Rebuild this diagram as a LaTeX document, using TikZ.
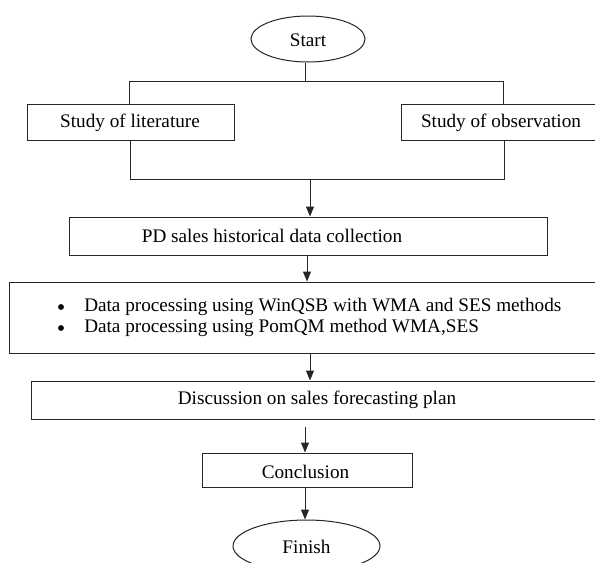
\documentclass[tikz,border=0pt]{standalone}
\usepackage{fontspec}
\setmainfont{Liberation Serif}
\usetikzlibrary{arrows.meta,shapes.geometric}
\begin{document}
\begin{tikzpicture}[x=0.75pt,y=-0.75pt,
  every node/.style={font=\fontsize{14.4}{17}\selectfont, inner sep=0pt},
  ln/.style={draw=black!85, line width=0.75pt},
  boxn/.style={ln, rectangle},
  ovaln/.style={ln, ellipse},
  arr/.style={ln, -{Triangle[width=6pt,length=7.5pt]}},
  txt/.style={text=black}]
\useasboundingbox (0,0) rectangle (595,562);
\clip (0,0) rectangle (595,562);
\fill[white] (0,0) rectangle (595,562);
% nodes
\node[ovaln, minimum width=114*0.75pt, minimum height=46*0.75pt] (start) at (308,39) {};
\node[txt] (starttxt) at (308,40) {Start};
\node[boxn, minimum width=207*0.75pt, minimum height=36*0.75pt] (lit) at (130.5,122) {};
\node[txt] (littxt) at (130,123) {Study of literature};
\node[boxn, minimum width=219*0.75pt, minimum height=36*0.75pt] (obs) at (510.5,122) {};
\node[txt] (obstxt) at (501,123) {Study of observation};
\node[boxn, minimum width=478*0.75pt, minimum height=38*0.75pt] (pd) at (308,236) {};
\node[txt] (pdtxt) at (272,236) {PD sales historical data collection};
\node[boxn, minimum width=611*0.75pt, minimum height=71*0.75pt] (data) at (314.5,317.5) {};
\fill[black] (61,307) circle (2.2pt);
\fill[black] (61,328) circle (2.2pt);
\node[txt, anchor=west] (d1) at (84,307) {Data processing using WinQSB with WMA and SES methods};
\node[txt, anchor=west] (d2) at (84,328) {Data processing using PomQM method WMA,SES};
\node[boxn, minimum width=589*0.75pt, minimum height=38*0.75pt] (disc) at (325.5,400) {};
\node[txt] (disctxt) at (317,400) {Discussion on sales forecasting plan};
\node[boxn, minimum width=210*0.75pt, minimum height=34*0.75pt] (concl) at (307,470) {};
\node[txt] (concltxt) at (305.5,472) {Conclusion};
\node[ovaln, minimum width=147*0.75pt, minimum height=52*0.75pt] (fin) at (306.5,546) {};
\node[txt] (fintxt) at (306.5,547) {Finish};
% coordinates
\coordinate (j1) at (305,81);
\coordinate (j1L) at (129,81);
\coordinate (j1R) at (503,81);
\coordinate (j2L) at (130,179);
\coordinate (j2R) at (504,179);
\coordinate (j2) at (310,179);
\coordinate (c1) at (307,0);
\coordinate (c2) at (310,0);
\coordinate (c3) at (305,427);
\coordinate (c4) at (305,0);
% connectors
\draw[ln] (j1 |- start.south) -- (j1);
\draw[ln] (j1L |- lit.north) -- (j1L) -- (j1R) -- (j1R |- obs.north);
\draw[ln] (j2L |- lit.south) -- (j2L) -- (j2R) -- (j2R |- obs.south);
\draw[arr] (j2) -- (j2 |- pd.north);
\draw[arr] (c1 |- pd.south) -- (c1 |- data.north);
\draw[arr] (c2 |- data.south) -- (c2 |- disc.north);
\draw[arr] (c3) -- (c3 |- concl.north);
\draw[arr] (c4 |- concl.south) -- (c4 |- fin.north);
\end{tikzpicture}
\end{document}
